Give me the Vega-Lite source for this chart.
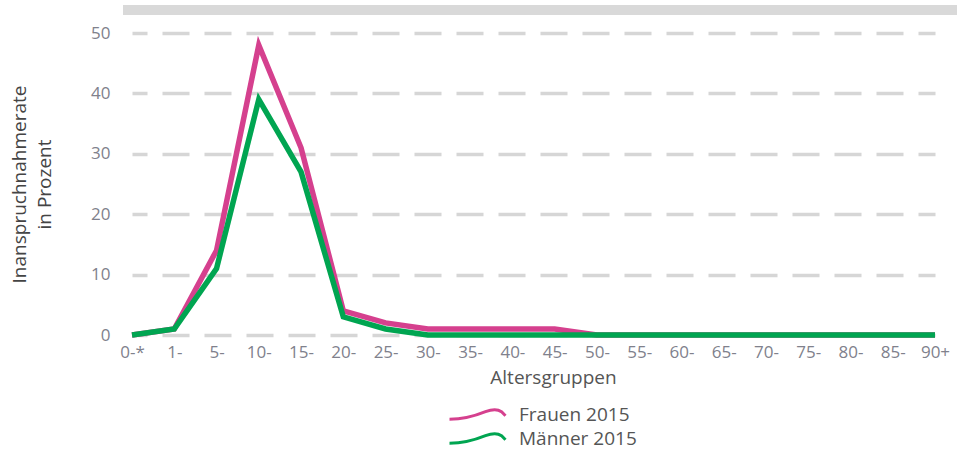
{
  "$schema": "https://vega.github.io/schema/vega-lite/v6.json",
  "width": 834,
  "height": 302,
  "autosize": {"type": "none"},
  "padding": {"left": 123, "top": 33, "right": 0, "bottom": 117},
  "background": "white",
  "config": {"font": "Open Sans", "view": {"stroke": null}},
  "layer": [
    {
      "data": {"values": [
        {"gruppe": "0-*", "serie": "Frauen 2015", "rate": 0},
        {"gruppe": "1-", "serie": "Frauen 2015", "rate": 1},
        {"gruppe": "5-", "serie": "Frauen 2015", "rate": 14},
        {"gruppe": "10-", "serie": "Frauen 2015", "rate": 48},
        {"gruppe": "15-", "serie": "Frauen 2015", "rate": 31},
        {"gruppe": "20-", "serie": "Frauen 2015", "rate": 4},
        {"gruppe": "25-", "serie": "Frauen 2015", "rate": 2},
        {"gruppe": "30-", "serie": "Frauen 2015", "rate": 1},
        {"gruppe": "35-", "serie": "Frauen 2015", "rate": 1},
        {"gruppe": "40-", "serie": "Frauen 2015", "rate": 1},
        {"gruppe": "45-", "serie": "Frauen 2015", "rate": 1},
        {"gruppe": "50-", "serie": "Frauen 2015", "rate": 0},
        {"gruppe": "55-", "serie": "Frauen 2015", "rate": 0},
        {"gruppe": "60-", "serie": "Frauen 2015", "rate": 0},
        {"gruppe": "65-", "serie": "Frauen 2015", "rate": 0},
        {"gruppe": "70-", "serie": "Frauen 2015", "rate": 0},
        {"gruppe": "75-", "serie": "Frauen 2015", "rate": 0},
        {"gruppe": "80-", "serie": "Frauen 2015", "rate": 0},
        {"gruppe": "85-", "serie": "Frauen 2015", "rate": 0},
        {"gruppe": "90+", "serie": "Frauen 2015", "rate": 0},
        {"gruppe": "0-*", "serie": "Männer 2015", "rate": 0},
        {"gruppe": "1-", "serie": "Männer 2015", "rate": 1},
        {"gruppe": "5-", "serie": "Männer 2015", "rate": 11},
        {"gruppe": "10-", "serie": "Männer 2015", "rate": 39},
        {"gruppe": "15-", "serie": "Männer 2015", "rate": 27},
        {"gruppe": "20-", "serie": "Männer 2015", "rate": 3},
        {"gruppe": "25-", "serie": "Männer 2015", "rate": 1},
        {"gruppe": "30-", "serie": "Männer 2015", "rate": 0},
        {"gruppe": "35-", "serie": "Männer 2015", "rate": 0},
        {"gruppe": "40-", "serie": "Männer 2015", "rate": 0},
        {"gruppe": "45-", "serie": "Männer 2015", "rate": 0},
        {"gruppe": "50-", "serie": "Männer 2015", "rate": 0},
        {"gruppe": "55-", "serie": "Männer 2015", "rate": 0},
        {"gruppe": "60-", "serie": "Männer 2015", "rate": 0},
        {"gruppe": "65-", "serie": "Männer 2015", "rate": 0},
        {"gruppe": "70-", "serie": "Männer 2015", "rate": 0},
        {"gruppe": "75-", "serie": "Männer 2015", "rate": 0},
        {"gruppe": "80-", "serie": "Männer 2015", "rate": 0},
        {"gruppe": "85-", "serie": "Männer 2015", "rate": 0},
        {"gruppe": "90+", "serie": "Männer 2015", "rate": 0}
      ]},
      "mark": {"type": "line", "strokeWidth": 5.5},
      "encoding": {
        "x": {
          "field": "gruppe", "type": "ordinal", "sort": null,
          "scale": {"type": "point", "range": [9, 812], "padding": 0},
          "axis": {
            "title": "Altersgruppen", "domain": false, "ticks": false, "grid": false,
            "labelPadding": 9, "labelFontSize": 17, "labelColor": "#80818c", "labelAngle": 0,
            "titleFontSize": 19, "titleFontWeight": "normal", "titleColor": "#555555",
            "titlePadding": 8, "titleX": 430
          }
        },
        "y": {
          "field": "rate", "type": "quantitative",
          "scale": {"domain": [0, 50], "nice": false},
          "axis": {
            "title": ["Inanspruchnahmerate", "in Prozent"],
            "values": [0, 10, 20, 30, 40, 50],
            "domain": false, "ticks": false, "labelPadding": 13,
            "labelFontSize": 17, "labelColor": "#80818c",
            "grid": true, "gridColor": "#d6d6d6", "gridWidth": 3.5,
            "gridDash": [27, 15], "gridDashOffset": 12,
            "titleFontSize": 19, "titleFontWeight": "normal", "titleColor": "#444444",
            "titlePadding": 36, "titleLineHeight": 25
          }
        },
        "color": {
          "field": "serie", "type": "nominal",
          "sort": ["Frauen 2015", "Männer 2015"],
          "scale": {"range": ["#d5408e", "#00a551"]},
          "legend": {
            "title": null, "orient": "none", "legendX": 345, "legendY": 372,
            "direction": "vertical", "padding": 0,
            "symbolType": "M-3.5,0.6 C-1.75,0.6 -0.35,0.2 1,-0.35 C1.75,-0.65 2.45,-0.75 3,-0.35 L3.5,0.15",
            "symbolSize": 256, "symbolStrokeWidth": 3, "symbolFillColor": "transparent",
            "labelFontSize": 19, "labelColor": "#555555", "labelOffset": 32, "rowPadding": 1,
            "encode": {"symbols": {"update": {"fill": {"value": "transparent"}}}}
          }
        }
      }
    },
    {
      "data": {"values": [{}]},
      "mark": {"type": "rule", "color": "#d9d9d9", "strokeWidth": 10},
      "encoding": {"y": {"datum": 53.8, "type": "quantitative"}}
    }
  ]
}
